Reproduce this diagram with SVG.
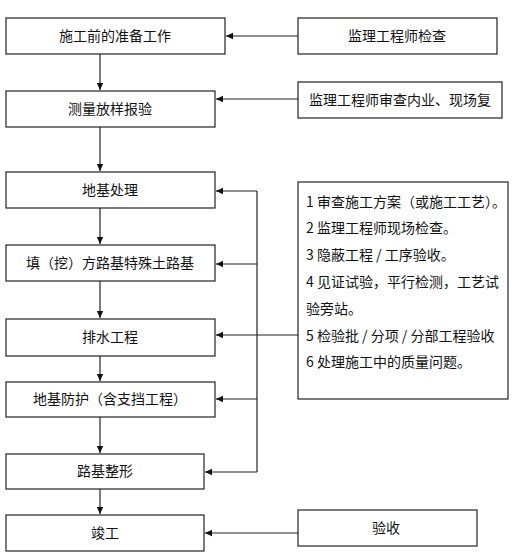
<svg xmlns="http://www.w3.org/2000/svg" width="516" height="560" viewBox="0 0 516 560">
<defs>
<marker id="ah" markerWidth="8" markerHeight="8" refX="7" refY="4" orient="auto" markerUnits="userSpaceOnUse">
<path d="M0,0.8 L7,4 L0,7.2 Z" fill="#111"/>
</marker>
<style>
.box{fill:#fff;stroke:#222;stroke-width:1.2}
.t{font-family:"Noto Sans CJK SC","Noto Sans",sans-serif;font-size:14px;fill:#111;text-anchor:middle}
.tl{font-family:"Noto Sans CJK SC","Noto Sans",sans-serif;font-size:14px;fill:#111}
.ln{stroke:#222;stroke-width:1.2;fill:none}
</style>
</defs>
<rect width="516" height="560" fill="#fff"/>
<g id="n1"><rect class="box" x="6" y="18" width="219" height="36"/><text class="t" x="115" y="41">施工前的准备工作</text></g>
<g id="r1"><rect class="box" x="298" y="18" width="199" height="36"/><text class="t" x="397" y="41">监理工程师检查</text></g>
<g id="n2"><rect class="box" x="6" y="91" width="209" height="36"/><text class="t" x="110" y="114">测量放样报验</text></g>
<g id="r2"><rect class="box" x="298" y="82" width="204" height="36"/><text class="t" x="400" y="105">监理工程师审查内业、现场复</text></g>
<g id="n3"><rect class="box" x="6" y="172" width="209" height="36"/><text class="t" x="110" y="195">地基处理</text></g>
<g id="n4"><rect class="box" x="6" y="245" width="209" height="36"/><text class="t" x="110" y="268">填（挖）方路基特殊土路基</text></g>
<g id="n5"><rect class="box" x="6" y="319" width="209" height="37"/><text class="t" x="110" y="342">排水工程</text></g>
<g id="n6"><rect class="box" x="6" y="382" width="209" height="35"/><text class="t" x="110" y="404">地基防护（含支挡工程）</text></g>
<g id="n7"><rect class="box" x="6" y="454" width="198" height="35"/><text class="t" x="105" y="476">路基整形</text></g>
<g id="n8"><rect class="box" x="6" y="515" width="198" height="36"/><text class="t" x="105" y="538">竣工</text></g>
<g id="r3"><rect class="box" x="298" y="510" width="179" height="36"/><text class="t" x="386" y="533">验收</text></g>
<g id="r4"><rect class="box" x="298" y="182" width="210" height="217"/>
<text class="tl" x="306" y="207">1 审查施工方案（或施工工艺）。</text>
<text class="tl" x="306" y="233">2 监理工程师现场检查。</text>
<text class="tl" x="306" y="260">3 隐蔽工程 / 工序验收。</text>
<text class="tl" x="306" y="287">4 见证试验，平行检测，工艺试</text>
<text class="tl" x="306" y="314">验旁站。</text>
<text class="tl" x="306" y="341">5 检验批 / 分项 / 分部工程验收</text>
<text class="tl" x="306" y="367">6 处理施工中的质量问题。</text>
</g>
<g id="connectors">
<line class="ln" x1="298" y1="36" x2="226" y2="36" marker-end="url(#ah)"/>
<line class="ln" x1="298" y1="99" x2="216" y2="99" marker-end="url(#ah)"/>
<line class="ln" x1="100" y1="54" x2="100" y2="90" marker-end="url(#ah)"/>
<line class="ln" x1="100" y1="127" x2="100" y2="171" marker-end="url(#ah)"/>
<line class="ln" x1="100" y1="208" x2="100" y2="244" marker-end="url(#ah)"/>
<line class="ln" x1="100" y1="281" x2="100" y2="318" marker-end="url(#ah)"/>
<line class="ln" x1="100" y1="356" x2="100" y2="381" marker-end="url(#ah)"/>
<line class="ln" x1="100" y1="417" x2="100" y2="453" marker-end="url(#ah)"/>
<line class="ln" x1="100" y1="489" x2="100" y2="514" marker-end="url(#ah)"/>
<line class="ln" x1="257" y1="191" x2="257" y2="472"/>
<line class="ln" x1="257" y1="191" x2="216" y2="191" marker-end="url(#ah)"/>
<line class="ln" x1="257" y1="264" x2="216" y2="264" marker-end="url(#ah)"/>
<line class="ln" x1="298" y1="335" x2="216" y2="335" marker-end="url(#ah)"/>
<line class="ln" x1="257" y1="399" x2="216" y2="399" marker-end="url(#ah)"/>
<line class="ln" x1="257" y1="472" x2="205" y2="472" marker-end="url(#ah)"/>
<line class="ln" x1="298" y1="533" x2="205" y2="533" marker-end="url(#ah)"/>
</g>
</svg>
